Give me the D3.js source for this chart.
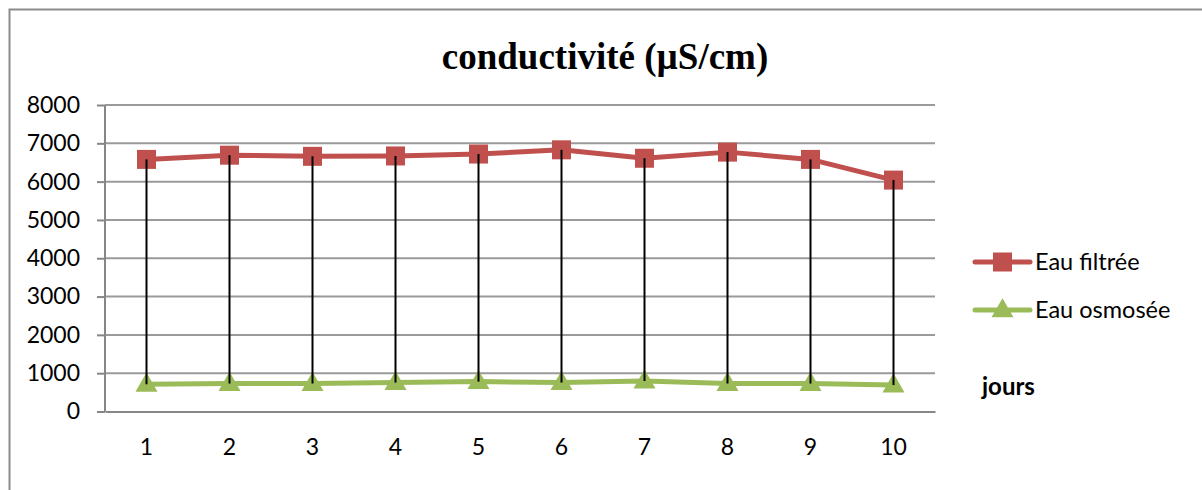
<!DOCTYPE html>
<html>
<head>
<meta charset="utf-8">
<script src="https://cdn.jsdelivr.net/npm/d3@7"></script>
<style>
  body { margin: 0; background: #fff; }
  svg { display: block; }
</style>
</head>
<body>
<div id="chart"></div>
<script>
// data
const days = [1, 2, 3, 4, 5, 6, 7, 8, 9, 10];
const eauFiltree = [6580, 6690, 6660, 6670, 6720, 6830, 6610, 6770, 6580, 6040];
const eauOsmosee = [710, 730, 730, 755, 780, 755, 795, 730, 730, 690];
const yTicks = [0, 1000, 2000, 3000, 4000, 5000, 6000, 7000, 8000];
const seriesNames = ["Eau filtrée", "Eau osmosée"];

const W = 1202, H = 490;
const margin = {top: 105, left: 105};
const plotW = 830, plotH = 306.5;

const red = "#C0504D", green = "#9BBB59";

const svg = d3.select("#chart").append("svg")
    .attr("width", W).attr("height", H);

// chart border
svg.append("rect")
    .attr("x", 9.5).attr("y", 9.5)
    .attr("width", W + 20).attr("height", H + 20)
    .attr("fill", "#fff")
    .attr("stroke", "#8c8c8c").attr("stroke-width", 2);

// title
svg.append("text")
    .attr("x", 605).attr("y", 69)
    .attr("text-anchor", "middle")
    .style("font-family", "'Liberation Serif', 'Times New Roman', serif")
    .style("font-weight", "bold")
    .style("font-size", "37px")
    .text("conductivité (µS/cm)");

const g = svg.append("g")
    .attr("transform", "translate(" + margin.left + "," + margin.top + ")");

const x = d3.scaleBand().domain(days).range([0, plotW]);
const cx = d => x(d) + x.bandwidth() / 2;
const y = d3.scaleLinear().domain([0, 8000]).range([plotH, 0]);

// gridlines
g.append("g")
    .selectAll("line")
    .data(yTicks.filter(d => d > 0))
    .join("line")
    .attr("x1", 0).attr("x2", plotW)
    .attr("y1", d => y(d)).attr("y2", d => y(d))
    .attr("stroke", "#9a9a9a").attr("stroke-width", 2);

// y axis
const yAxis = g.append("g")
    .call(d3.axisLeft(y).tickValues(yTicks).tickSize(8).tickPadding(17).tickFormat(d3.format("d")));
yAxis.select(".domain").attr("stroke", "#868686").attr("stroke-width", 2).attr("d", "M0,0V" + plotH);
yAxis.selectAll(".tick line").attr("stroke", "#868686").attr("stroke-width", 2);
yAxis.selectAll("text")
    .style("font-family", "Lato, 'Open Sans', sans-serif")
    .style("font-size", "23px")
    .attr("fill", "#000");

// x axis
const xAxis = g.append("g")
    .attr("transform", "translate(0," + plotH + ")")
    .call(d3.axisBottom(x).tickSize(0).tickPadding(27));
xAxis.select(".domain").attr("stroke", "#868686").attr("stroke-width", 2);
xAxis.selectAll("text")
    .style("font-family", "Lato, 'Open Sans', sans-serif")
    .style("font-size", "23px")
    .attr("fill", "#000");

const line = d3.line()
    .x((d, i) => cx(days[i]))
    .y(d => y(d));

// series lines
g.append("path")
    .datum(eauFiltree)
    .attr("d", line)
    .attr("fill", "none")
    .attr("stroke", red).attr("stroke-width", 5)
    .attr("stroke-linejoin", "round");

g.append("path")
    .datum(eauOsmosee)
    .attr("d", line)
    .attr("fill", "none")
    .attr("stroke", green).attr("stroke-width", 5)
    .attr("stroke-linejoin", "round");

// markers
g.append("g")
    .selectAll("rect")
    .data(eauFiltree)
    .join("rect")
    .attr("x", (d, i) => cx(days[i]) - 9.5)
    .attr("y", d => y(d) - 9.5)
    .attr("width", 19).attr("height", 19)
    .attr("fill", red);

const tri = d3.symbol().type(d3.symbolTriangle).size(210);
g.append("g")
    .selectAll("path")
    .data(eauOsmosee)
    .join("path")
    .attr("d", tri)
    .attr("transform", (d, i) => "translate(" + cx(days[i]) + "," + (y(d) + 1) + ")")
    .attr("fill", green);

// high-low lines
g.append("g")
    .selectAll("line")
    .data(days)
    .join("line")
    .attr("x1", d => cx(d)).attr("x2", d => cx(d))
    .attr("y1", (d, i) => y(eauFiltree[i]))
    .attr("y2", (d, i) => y(eauOsmosee[i]))
    .attr("stroke", "#000").attr("stroke-width", 2);

// legend
const legend = svg.append("g");
const legendItems = legend.selectAll("g")
    .data(seriesNames)
    .join("g")
    .attr("transform", (d, i) => "translate(975," + (262 + i * 48) + ")");

legendItems.append("line")
    .attr("x1", 0).attr("x2", 55)
    .attr("stroke", (d, i) => i === 0 ? red : green)
    .attr("stroke-width", 5)
    .attr("stroke-linecap", "round");

legendItems.filter((d, i) => i === 0).append("rect")
    .attr("x", 18).attr("y", -9.5)
    .attr("width", 19).attr("height", 19)
    .attr("fill", red);

legendItems.filter((d, i) => i === 1).append("path")
    .attr("d", tri)
    .attr("transform", "translate(27.5,1)")
    .attr("fill", green);

legendItems.append("text")
    .attr("x", 60).attr("y", 8)
    .style("font-family", "Lato, 'Open Sans', sans-serif")
    .style("font-size", "23.5px")
    .text(d => d);

// axis title
svg.append("text")
    .attr("x", 982).attr("y", 395)
    .style("font-family", "Lato, 'Open Sans', sans-serif")
    .style("font-weight", "bold")
    .style("font-size", "24px")
    .text("jours");
</script>
</body>
</html>
